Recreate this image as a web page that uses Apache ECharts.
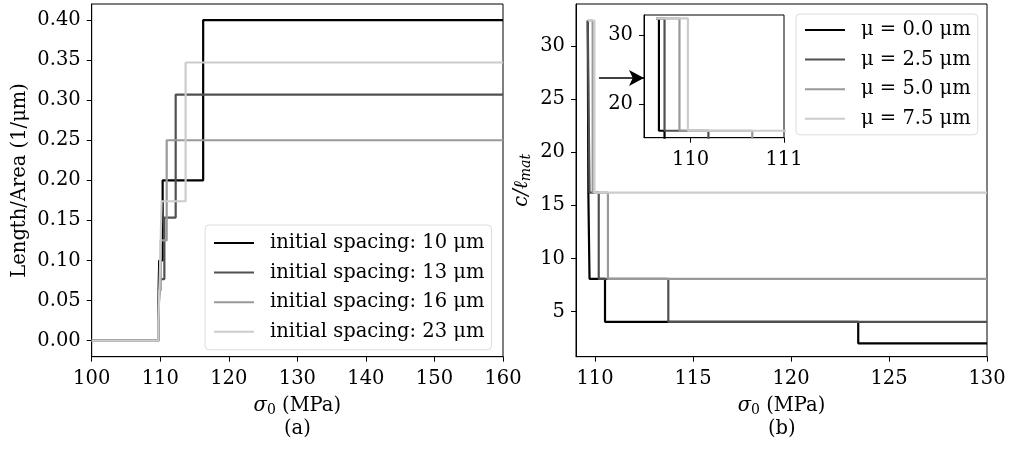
<!DOCTYPE html>
<html>
<head>
<meta charset="utf-8">
<script src="https://cdn.jsdelivr.net/npm/echarts@6/dist/echarts.min.js"></script>
<style>html,body{margin:0;padding:0;background:#fff}#c{width:1010px;height:450px}</style>
</head>
<body>
<div id="c"></div>
<script>
// ---------- data ----------
const leftNames = ['initial spacing: 10 μm', 'initial spacing: 13 μm', 'initial spacing: 16 μm', 'initial spacing: 23 μm'];
const rightNames = ['μ = 0.0 μm', 'μ = 2.5 μm', 'μ = 5.0 μm', 'μ = 7.5 μm'];
const colors = ['#000000', '#505050', '#999999', '#cccccc'];

// left panel (a): step breakpoints (value holds until next x)
const leftX10 = [100, 109.72, 109.85, 110.35, 116.26, 160];
const leftY10 = [0, 0.05, 0.10, 0.20, 0.40, 0.40];
const leftX13 = [100, 109.75, 110.0, 110.6, 112.25, 160];
const leftY13 = [0, 0.0384, 0.0768, 0.1536, 0.307, 0.307];
const leftX16 = [100, 109.76, 110.07, 110.94, 160];
const leftY16 = [0, 0.0625, 0.125, 0.25, 0.25];
const leftX23 = [100, 109.72, 109.8, 109.95, 110.2, 113.7, 160];
const leftY23 = [0, 0.0217, 0.0434, 0.0869, 0.1739, 0.347, 0.347];

// right panel (b)
const rightX0 = [109.63, 109.66, 109.72, 110.51, 123.43, 130];
const rightY0 = [32.4, 16.2, 8.1, 4.05, 2.025, 2.025];
const rightX25 = [109.63, 109.72, 110.19, 113.74, 130];
const rightY25 = [32.4, 16.2, 8.1, 4.05, 4.05];
const rightX50 = [109.63, 109.88, 110.66, 130];
const rightY50 = [32.4, 16.2, 8.1, 8.1];
const rightX75 = [109.63, 109.97, 130];
const rightY75 = [32.4, 16.2, 16.2];

const leftYTicks = [0, 0.05, 0.10, 0.15, 0.20, 0.25, 0.30, 0.35, 0.40];
const rightXTicks = [110, 115, 120, 125, 130];
const rightYTicks = [5, 10, 15, 20, 25, 30];
const insetXTicks = [110, 111];
const insetYTicks = [20, 30];
// annotation arrow (data coords of panel b)
const arrowFrom = [110.2, 27.0];
const arrowTo = [112.5, 27.0];

// ---------- build ----------
const F = 'DejaVu Serif';
const FS = 19.5;
const zip = (xs, ys) => xs.map((x, i) => [x, ys[i]]);
const leftData = [zip(leftX10, leftY10), zip(leftX13, leftY13), zip(leftX16, leftY16), zip(leftX23, leftY23)];
const rightData = [zip(rightX0, rightY0), zip(rightX25, rightY25), zip(rightX50, rightY50), zip(rightX75, rightY75)];

function merge(a, b) {
  const o = Object.assign({}, a);
  for (const k in b) {
    if (b[k] && typeof b[k] === 'object' && !Array.isArray(b[k]) && a[k] && typeof a[k] === 'object') o[k] = merge(a[k], b[k]);
    else o[k] = b[k];
  }
  return o;
}
const axisBase = {
  type: 'value',
  axisLine: { show: true, onZero: false, lineStyle: { color: '#000', width: 1 } },
  axisTick: { show: true, inside: false, length: 5, lineStyle: { color: '#000', width: 1 } },
  splitLine: { show: false },
  axisLabel: { color: '#000', fontFamily: F, fontSize: FS, margin: 11 },
  nameTextStyle: { color: '#000', fontFamily: F, fontSize: FS }
};
function ax(extra) { return merge(axisBase, extra); }

const sigmaRich = {
  i: { fontStyle: 'italic', fontFamily: F, fontSize: FS, lineHeight: 23 },
  n: { fontFamily: F, fontSize: FS, lineHeight: 23 },
  s: { fontFamily: F, fontSize: 14, lineHeight: 14, verticalAlign: 'bottom' }
};

const series = [];
leftData.forEach((d, i) => series.push({
  name: leftNames[i], type: 'line', step: 'end', xAxisIndex: 0, yAxisIndex: 0,
  data: d, symbol: 'none', lineStyle: { color: colors[i], width: 2.2 }, itemStyle: { color: colors[i] }
}));
rightData.forEach((d, i) => series.push({
  name: rightNames[i], type: 'line', step: 'end', xAxisIndex: 1, yAxisIndex: 1,
  data: d, symbol: 'none', lineStyle: { color: colors[i], width: 2.2 }, itemStyle: { color: colors[i] }
}));
rightData.forEach((d, i) => series.push({
  name: rightNames[i], type: 'line', step: 'end', xAxisIndex: 2, yAxisIndex: 2,
  data: d, symbol: 'none', clip: true, lineStyle: { color: colors[i], width: 2.2 }, itemStyle: { color: colors[i] }
}));
series.push({
  type: 'line', xAxisIndex: 1, yAxisIndex: 1, data: [], symbol: 'none',
  markLine: {
    silent: true, symbol: ['none', 'arrow'], symbolSize: [12, 15],
    label: { show: false },
    lineStyle: { color: '#000', width: 1.5, type: 'solid' },
    data: [[{ coord: arrowFrom }, { coord: arrowTo }]]
  }
});

const legendBase = {
  orient: 'vertical', itemWidth: 40, itemHeight: 2, itemGap: 9.6, icon: 'rect',
  borderColor: '#dcdcdc', borderWidth: 1, borderRadius: 4,
  backgroundColor: '#fff',
  textStyle: { color: '#000', fontFamily: F, fontSize: FS, lineHeight: 18, padding: [0, 0, 0, 11] },
  selectedMode: false
};

const option = {
  animation: false,
  backgroundColor: '#fff',
  grid: [
    { left: 91.7, top: 4, width: 411.3, height: 352.7, show: true, borderColor: '#000', borderWidth: 1 },
    { left: 576, top: 4, width: 411, height: 352.7, show: true, borderColor: '#000', borderWidth: 1 },
    { left: 644, top: 15, width: 140, height: 122.7, show: true, borderColor: '#000', borderWidth: 1, backgroundColor: '#fff' }
  ],
  xAxis: [
    ax({ gridIndex: 0, min: 100, max: 160, interval: 10, axisLabel: { margin: 12 },
      name: '{i|σ}{s|0}{n| (MPa)}', nameLocation: 'middle', nameGap: 38, nameTextStyle: { rich: sigmaRich } }),
    ax({ gridIndex: 1, min: 109.03, max: 130,
      axisLabel: { margin: 12, customValues: rightXTicks }, axisTick: { customValues: rightXTicks },
      name: '{i|σ}{s|0}{n| (MPa)}', nameLocation: 'middle', nameGap: 38, nameTextStyle: { rich: sigmaRich } }),
    ax({ gridIndex: 2, min: 109.5, max: 111,
      axisLabel: { margin: 12, customValues: insetXTicks }, axisTick: { customValues: insetXTicks } })
  ],
  yAxis: [
    ax({ gridIndex: 0, min: -0.02, max: 0.42,
      axisLabel: { customValues: leftYTicks, formatter: v => v.toFixed(2) }, axisTick: { customValues: leftYTicks },
      name: 'Length/Area (1/μm)', nameLocation: 'middle', nameGap: 62, nameRotate: 90 }),
    ax({ gridIndex: 1, min: 0.77, max: 33.95,
      axisLabel: { customValues: rightYTicks }, axisTick: { customValues: rightYTicks },
      name: '{i|c/ℓ}{s|mat}', nameLocation: 'middle', nameGap: 43, nameRotate: 90,
      nameTextStyle: { rich: { i: { fontStyle: 'italic', fontFamily: F, fontSize: FS, lineHeight: 23 }, s: { fontStyle: 'italic', fontFamily: F, fontSize: 14, lineHeight: 14, verticalAlign: 'bottom' } } } }),
    ax({ gridIndex: 2, min: 15.2, max: 32.9,
      axisLabel: { customValues: insetYTicks }, axisTick: { customValues: insetYTicks } })
  ],
  legend: [
    Object.assign({}, legendBase, { data: leftNames, left: 205, top: 225, padding: [8, 7, 8, 9] }),
    Object.assign({}, legendBase, { data: rightNames, left: 796, top: 14, padding: [6, 7, 6, 9] })
  ],
  graphic: [
    { type: 'text', left: 284, top: 419, style: { text: '(a)', font: FS + 'px "DejaVu Serif"', fill: '#000' } },
    { type: 'text', left: 768, top: 419, style: { text: '(b)', font: FS + 'px "DejaVu Serif"', fill: '#000' } }
  ],
  series: series
};

const chart = echarts.init(document.getElementById('c'), null, { renderer: 'canvas' });
chart.setOption(option);
</script>
</body>
</html>
